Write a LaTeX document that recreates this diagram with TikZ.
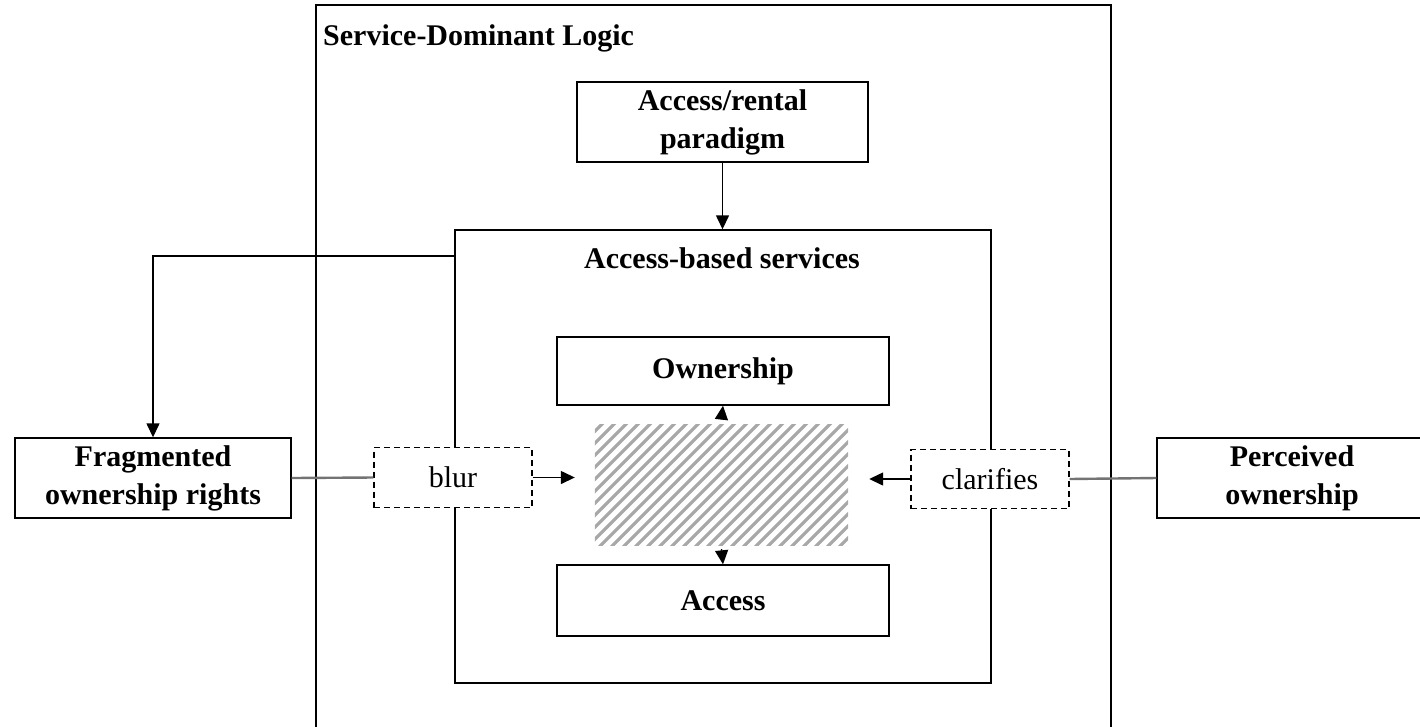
\documentclass[tikz,border=0pt]{standalone}
\usepackage{fontspec}
\setmainfont{Liberation Serif}
\usetikzlibrary{arrows.meta}
\definecolor{hatchgray}{RGB}{168,168,168}
\definecolor{linegray}{RGB}{115,115,115}
\begin{document}
\begin{tikzpicture}[x=1pt,y=-1pt,
  txt/.style={font=\fontsize{30}{38}\selectfont, inner sep=0pt},
  btxt/.style={font=\fontsize{30}{38}\selectfont\bfseries, inner sep=0pt, align=center},
  box/.style={draw, line width=1.4pt, fill=white, inner sep=0pt, align=center,
              font=\fontsize{30}{38}\selectfont\bfseries},
  frame/.style={draw, line width=1.4pt, inner sep=0pt},
  dbox/.style={draw, line width=1.3pt, dash pattern=on 6pt off 4pt, fill=white,
               inner sep=0pt, font=\fontsize{30}{38}\selectfont},
  arr/.style={line width=1.4pt, -{Triangle[length=14pt,width=13pt]}},
  gline/.style={line width=2.4pt, draw=linegray},
  hstripe/.style={line width=3.2pt, draw=hatchgray}
]
\useasboundingbox (0,0) rectangle (1420,726);
\clip (0,0) rectangle (1420,726);

% outer Service-Dominant Logic frame (open at bottom)
\coordinate (sdlBL) at (316,740);
\coordinate (sdlTL) at (316,5);
\coordinate (sdlTR) at (1111,5);
\coordinate (sdlBR) at (1111,740);
\draw[line width=1.4pt] (sdlBL) -- (sdlTL) -- (sdlTR) -- (sdlBR);
\node[btxt, anchor=west] (sdlT) at (323,38) {Service-Dominant Logic};

% access/rental paradigm
\node[box, minimum width=291pt, minimum height=80pt] (ar) at (722.5,122) {Access/rental\\paradigm};

% access-based services frame
\node[frame, minimum width=536pt, minimum height=453pt] (abs) at (723,456.5) {};
\node[btxt] (absT) at (722,258) {Access-based services};

\draw[arr] (ar.south) -- (abs.north -| ar.south);

% outside boxes
\node[box, minimum width=276pt, minimum height=80pt] (frag) at (153,478) {Fragmented\\ownership rights};
\node[box, minimum width=270pt, minimum height=80pt] (perc) at (1292,478) {Perceived\\ownership};

\coordinate (absL) at (455,256);
\draw[arr] (absL) -| (frag.north);

% inner boxes
\node[box, minimum width=332pt, minimum height=68pt] (own) at (723,371) {Ownership};
\node[box, minimum width=332pt, minimum height=71pt] (acc) at (723,600.5) {Access};

% hatched area
\node[inner sep=0pt, minimum width=253pt, minimum height=120pt] (hatch) at (721.5,485) {};
\begin{scope}
  \clip (hatch.south west) rectangle (hatch.north east);
  \foreach \i in {-128,-116,...,264}
    \draw[hstripe] (595+\i,547) -- ++(124,-124);
\end{scope}

\draw[arr] ([yshift=6pt]hatch.north) -- (own.south);
\draw[arr] ([yshift=-4pt]hatch.south) -- (acc.north);

% dashed boxes
\node[dbox, minimum width=158pt, minimum height=60pt] (blur) at (453,477.5) {blur};
\node[dbox, minimum width=158pt, minimum height=59pt] (clar) at (990,479) {clarifies};

\draw[gline] (frag.east) -- (blur.west);
\draw[gline] (clar.east) -- (perc.west);

\draw[arr] (blur.east) -- ([xshift=-20pt]hatch.west |- blur.east);
\draw[arr] (clar.west) -- ([xshift=21pt]hatch.east |- clar.west);
\end{tikzpicture}
\end{document}
